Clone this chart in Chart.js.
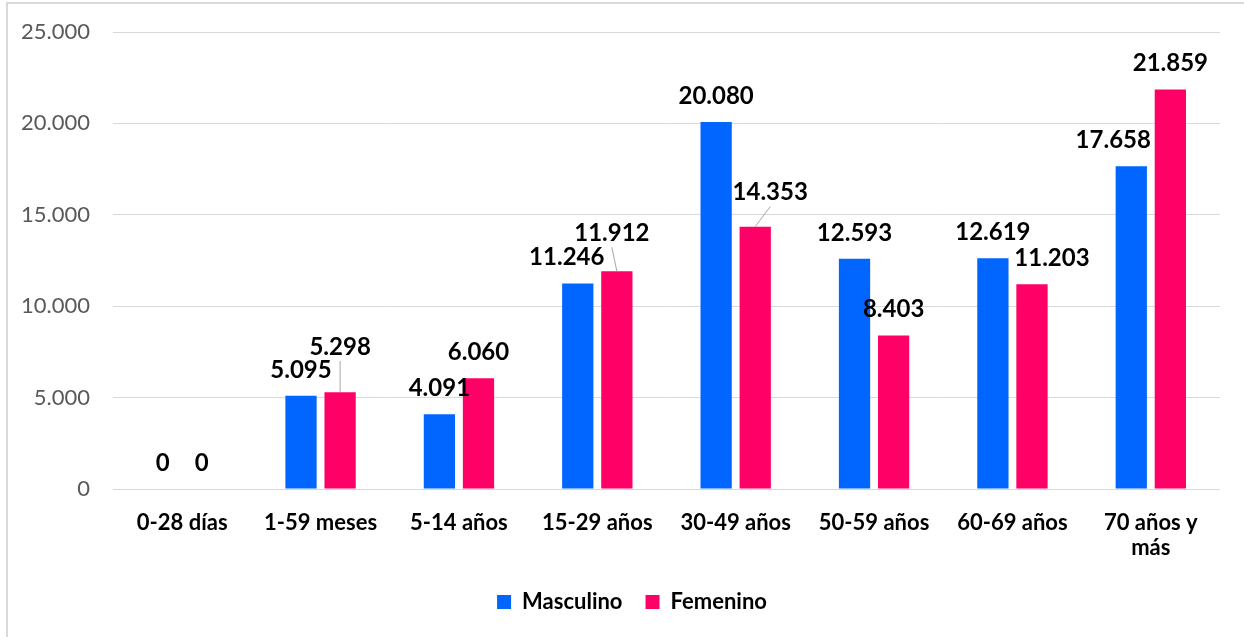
<!DOCTYPE html>
<html>
<head>
<meta charset="utf-8">
<script src="https://cdn.jsdelivr.net/npm/chart.js@4.4.1/dist/chart.umd.min.js"></script>
<style>
  html, body { margin: 0; padding: 0; background: #fff; }
  #wrap { position: relative; width: 1244px; height: 637px; }
</style>
</head>
<body>
<div id="wrap"><canvas id="barChart" width="1244" height="637"></canvas></div>
<script>
// data
const categories = ['0-28 días', '1-59 meses', '5-14 años', '15-29 años', '30-49 años', '50-59 años', '60-69 años', ['70 años y', 'más']];
const masculino = [0, 5095, 4091, 11246, 20080, 12593, 12619, 17658];
const femenino = [0, 5298, 6060, 11912, 14353, 8403, 11203, 21859];
const yTicks = [0, 5000, 10000, 15000, 20000, 25000];

// label nudges [dx, dy, leader line]
const labelNudge = [
  [[0, 0], [0, 0], [0, 0], [-11, 0], [0, 0], [0, 0], [0, 0], [-18, 0]],
  [[0, 0], [0, -19, true], [0, 0], [-5, -12, true], [15, -8, true], [0, 0], [20, 0], [0, 0]]
];

const fmt = v => String(v).replace(/\B(?=(\d{3})+(?!\d))/g, '.');
const FONT = 'Lato, "Open Sans", sans-serif';

const frame = {
  id: 'frame',
  afterLayout(chart) {
    // legend sits a bit right of centre in the original
    chart.legend.left += 22;
    chart.legend.right += 22;
  },
  beforeDraw(chart) {
    const ctx = chart.ctx;
    ctx.save();
    ctx.fillStyle = '#fff';
    ctx.fillRect(0, 0, chart.width, chart.height);
    ctx.strokeStyle = '#d9d9d9';
    ctx.lineWidth = 2;
    ctx.beginPath();
    ctx.moveTo(7, chart.height);
    ctx.lineTo(7, 3);
    ctx.lineTo(chart.width, 3);
    ctx.stroke();
    ctx.restore();
  }
};

const valueLabels = {
  id: 'valueLabels',
  afterDatasetsDraw(chart) {
    const ctx = chart.ctx;
    ctx.save();
    ctx.font = 'bold 24px ' + FONT;
    ctx.textAlign = 'center';
    ctx.textBaseline = 'middle';
    chart.data.datasets.forEach((ds, i) => {
      chart.getDatasetMeta(i).data.forEach((bar, j) => {
        const n = labelNudge[i][j];
        const x = bar.x + n[0];
        const y = bar.y - 26 + n[1];
        if (n[2]) {
          ctx.strokeStyle = '#a6a6a6';
          ctx.lineWidth = 1;
          ctx.beginPath();
          ctx.moveTo(bar.x, bar.y);
          ctx.lineTo(x, y + 14);
          ctx.stroke();
        }
        ctx.fillStyle = '#000';
        ctx.fillText(fmt(ds.data[j]), x, y);
      });
    });
    ctx.restore();
  }
};

new Chart(document.getElementById('barChart'), {
  type: 'bar',
  data: {
    labels: categories,
    datasets: [
      {
        label: 'Masculino',
        data: masculino,
        backgroundColor: '#0066ff',
        categoryPercentage: 0.565,
        barPercentage: 0.8
      },
      {
        label: 'Femenino',
        data: femenino,
        backgroundColor: '#ff0066',
        categoryPercentage: 0.565,
        barPercentage: 0.8
      }
    ]
  },
  options: {
    responsive: false,
    animation: false,
    layout: { padding: { top: 32, right: 24, bottom: 14, left: 0 } },
    plugins: {
      legend: {
        position: 'bottom',
        labels: {
          boxWidth: 14,
          boxHeight: 14,
          padding: 23,
          color: '#000',
          font: { family: FONT, size: 22, weight: 'bold' }
        }
      },
      tooltip: { enabled: false }
    },
    scales: {
      x: {
        grid: { display: false },
        border: { display: false },
        ticks: {
          color: '#000',
          padding: 13,
          maxRotation: 0,
          autoSkip: false,
          font: { family: FONT, size: 22, weight: 'bold', lineHeight: 1.15 }
        },
        afterFit(scale) { scale.height = 79; }
      },
      y: {
        min: 0,
        max: 25000,
        afterBuildTicks(scale) { scale.ticks = yTicks.map(v => ({ value: v })); },
        grid: { color: '#d9d9d9', lineWidth: 1, drawTicks: false },
        border: { display: false },
        ticks: {
          color: '#595959',
          padding: 23,
          font: { family: FONT, size: 22, lineHeight: 0.4 },
          callback: v => fmt(v)
        },
        afterFit(scale) { scale.width = 113; }
      }
    }
  },
  plugins: [frame, valueLabels]
});
</script>
</body>
</html>
